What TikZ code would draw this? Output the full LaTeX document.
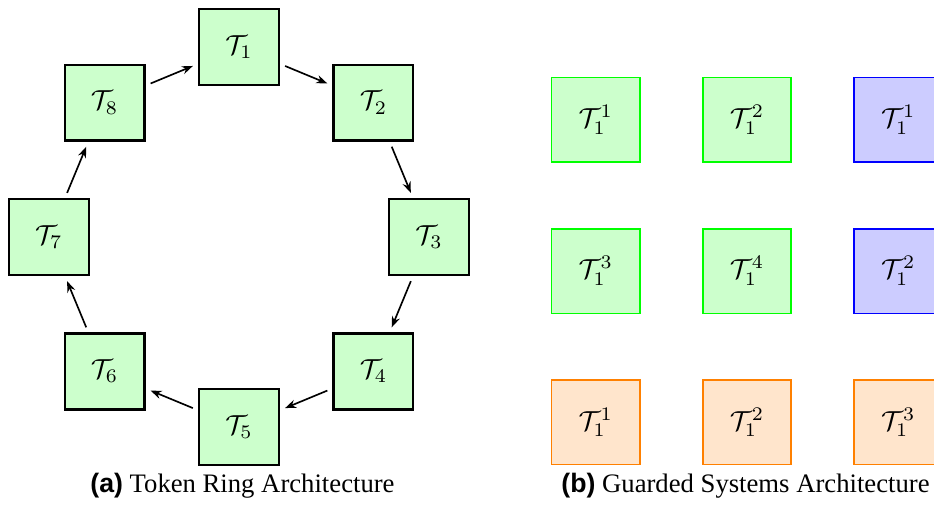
\documentclass[tikz,border=0pt]{standalone}
\usepackage[no-math]{fontspec}
\setmainfont{Liberation Serif}
\newfontfamily\labelfont{Liberation Sans}
\usetikzlibrary{arrows.meta,positioning}
\tikzset{
	ringbox/.style={draw,thick,fill=green!20,minimum width=1.02cm,minimum height=0.97cm,inner sep=0pt},
	gridbox/.style={draw=#1,semithick,fill=#1!20,minimum width=1.13cm,minimum height=1.08cm,inner sep=0pt},
	pass/.style={-{Stealth[length=4pt]},semithick,shorten >=2pt,shorten <=2pt},
	caption/.style={inner sep=0pt,font=\fontsize{9.7pt}{11pt}\selectfont}
}

\begin{document}
\begin{tikzpicture}
            \clip (-3.054,-3.438) rectangle (8.882,3.029);
            % token ring
            \foreach \i in {1,...,8}
                \node[ringbox] (t\i) at ({90-45*(\i-1)}:2.43) {$\mathcal{T}_{\i}$};
            \foreach \i in {1,...,8} {
                \pgfmathtruncatemacro\next{mod(\i,8)+1}
                \draw[pass] (t\i) -- (t\next);
            }
            \node[caption] (capa) at (0.045,-3.18) {{\labelfont\bfseries (a)} Token Ring Architecture};
            % guarded systems
            \node[gridbox=green] (g1) at (4.559, 1.499) {$\mathcal{T}_1^1$};
            \node[gridbox=green] (g2) at (6.492, 1.499) {$\mathcal{T}_1^2$};
            \node[gridbox=blue]  (b1) at (8.426, 1.499) {$\mathcal{T}_1^1$};
            \node[gridbox=green] (g3) at (4.559,-0.435) {$\mathcal{T}_1^3$};
            \node[gridbox=green] (g4) at (6.492,-0.435) {$\mathcal{T}_1^4$};
            \node[gridbox=blue]  (b2) at (8.426,-0.435) {$\mathcal{T}_1^2$};
            \node[gridbox=orange] (o1) at (4.559,-2.368) {$\mathcal{T}_1^1$};
            \node[gridbox=orange] (o2) at (6.492,-2.368) {$\mathcal{T}_1^2$};
            \node[gridbox=orange] (o3) at (8.426,-2.368) {$\mathcal{T}_1^3$};
            \node[caption] (capb) at (6.473,-3.18) {{\labelfont\bfseries (b)} Guarded Systems Architecture};
        \end{tikzpicture}
\end{document}
